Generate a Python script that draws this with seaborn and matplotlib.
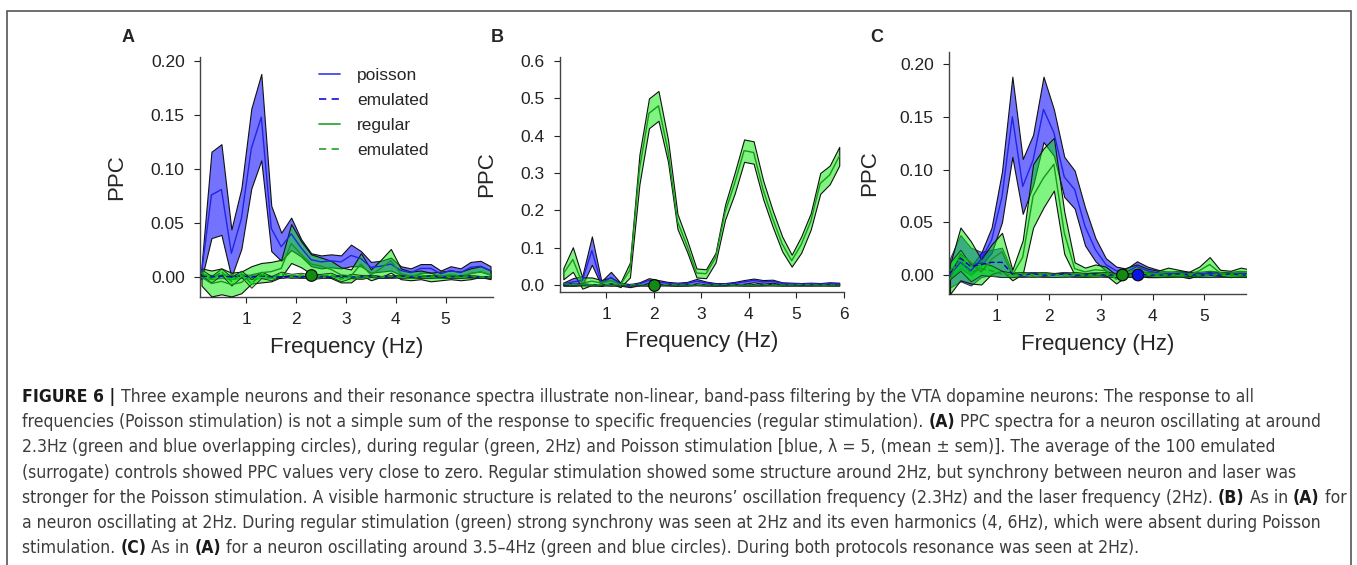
import numpy as np
import pandas as pd
import matplotlib
matplotlib.use("Agg")
import matplotlib.pyplot as plt
from matplotlib.lines import Line2D
from matplotlib.patches import Rectangle
from matplotlib import font_manager
import seaborn as sns

# ── Data ─────────────────────────────────────────────────────────────────────
FREQ = [0.1, 0.3, 0.5, 0.7, 0.9, 1.1, 1.3, 1.5, 1.7, 1.9,
        2.1, 2.3, 2.5, 2.7, 2.9, 3.1, 3.3, 3.5, 3.7, 3.9,
        4.1, 4.3, 4.5, 4.7, 4.9, 5.1, 5.3, 5.5, 5.7, 5.9]

# Panel A
A_POI = [0.004, 0.076, 0.081, 0.022, 0.054, 0.119, 0.148, 0.045, 0.028, 0.040,
         0.027, 0.016, 0.014, 0.015, 0.014, 0.020, 0.017, 0.009, 0.010, 0.012,
         0.006, 0.004, 0.008, 0.008, 0.003, 0.006, 0.004, 0.009, 0.010, 0.006]
A_POI_SEM = [0.006, 0.040, 0.042, 0.022, 0.028, 0.037, 0.040, 0.021, 0.013, 0.015,
             0.008, 0.006, 0.006, 0.006, 0.006, 0.010, 0.007, 0.005, 0.005, 0.006,
             0.004, 0.004, 0.004, 0.004, 0.003, 0.004, 0.004, 0.005, 0.005, 0.004]
A_REG = [0.000, -0.006, -0.004, -0.007, -0.005, 0.002, 0.004, 0.005, 0.008, 0.031,
         0.021, 0.012, 0.010, 0.007, 0.002, 0.001, 0.012, 0.002, 0.008, 0.015,
         0.003, 0.001, 0.002, 0.000, 0.001, 0.002, 0.001, 0.003, 0.005, 0.002]
A_REG_SEM = [0.008, 0.012, 0.012, 0.011, 0.010, 0.008, 0.009, 0.009, 0.008, 0.018,
             0.012, 0.009, 0.008, 0.008, 0.007, 0.006, 0.010, 0.005, 0.008, 0.011,
             0.005, 0.004, 0.004, 0.004, 0.004, 0.004, 0.004, 0.005, 0.005, 0.004]
A_EMU_POI = [0.001, 0.000, 0.001, 0.000, 0.001, 0.000, 0.001, 0.000, 0.000, 0.001,
             0.000, 0.001, 0.000, 0.000, 0.001, 0.000, 0.000, 0.001, 0.000, 0.000,
             0.001, 0.000, 0.000, 0.001, 0.000, 0.000, 0.001, 0.000, 0.000, 0.000]
A_EMU_POI_SEM = [0.002, 0.002, 0.002, 0.002, 0.002, 0.002, 0.002, 0.001, 0.001, 0.001,
                 0.001, 0.001, 0.001, 0.001, 0.001, 0.001, 0.001, 0.001, 0.001, 0.001,
                 0.001, 0.001, 0.001, 0.001, 0.001, 0.001, 0.001, 0.001, 0.001, 0.001]
A_EMU_REG = [0.004, -0.002, 0.005, -0.004, 0.003, -0.006, 0.002, -0.001, 0.003, 0.001,
             0.002, 0.000, 0.001, 0.002, -0.002, 0.001, 0.000, 0.001, 0.000, 0.001,
             0.000, 0.001, 0.000, 0.000, 0.001, 0.000, 0.000, 0.001, 0.000, 0.000]
A_EMU_REG_SEM = [0.003, 0.003, 0.003, 0.004, 0.003, 0.004, 0.003, 0.002, 0.002, 0.002,
                 0.002, 0.002, 0.002, 0.002, 0.002, 0.002, 0.002, 0.001, 0.001, 0.001,
                 0.001, 0.001, 0.001, 0.001, 0.001, 0.001, 0.001, 0.001, 0.001, 0.001]

# Panel B
B_POI = [0.002, 0.008, 0.012, 0.092, 0.004, 0.020, 0.002, -0.002, 0.003, 0.012,
         0.008, 0.004, 0.002, 0.004, 0.010, 0.005, 0.002, 0.002, 0.004, 0.008,
         0.012, 0.008, 0.010, 0.004, 0.003, 0.002, 0.003, 0.002, 0.004, 0.003]
B_POI_SEM = [0.004, 0.010, 0.012, 0.038, 0.006, 0.015, 0.004, 0.004, 0.004, 0.006,
             0.005, 0.004, 0.004, 0.004, 0.006, 0.004, 0.003, 0.003, 0.004, 0.005,
             0.005, 0.005, 0.004, 0.003, 0.003, 0.003, 0.003, 0.003, 0.003, 0.003]
B_REG = [0.030, 0.068, 0.005, 0.010, 0.005, 0.012, 0.000, 0.040, 0.310, 0.460,
         0.480, 0.360, 0.170, 0.105, 0.032, 0.030, 0.073, 0.195, 0.272, 0.360,
         0.355, 0.255, 0.178, 0.110, 0.065, 0.108, 0.170, 0.272, 0.295, 0.345]
B_REG_SEM = [0.015, 0.033, 0.015, 0.010, 0.008, 0.008, 0.006, 0.020, 0.040, 0.040,
             0.040, 0.030, 0.020, 0.016, 0.012, 0.012, 0.013, 0.020, 0.028, 0.030,
             0.030, 0.025, 0.022, 0.020, 0.016, 0.022, 0.022, 0.028, 0.025, 0.025]
B_EMU_POI = [0.001, 0.000, 0.001, 0.000, 0.001, 0.000, 0.000, 0.001, 0.000, 0.000,
             0.001, 0.000, 0.000, 0.000, 0.001, 0.000, 0.000, 0.000, 0.001, 0.000,
             0.000, 0.000, 0.001, 0.000, 0.000, 0.000, 0.000, 0.001, 0.000, 0.000]
B_EMU_POI_SEM = [0.002, 0.002, 0.002, 0.002, 0.002, 0.002, 0.002, 0.002, 0.002, 0.002,
                 0.002, 0.002, 0.002, 0.002, 0.002, 0.002, 0.002, 0.002, 0.002, 0.002,
                 0.002, 0.002, 0.002, 0.002, 0.002, 0.002, 0.002, 0.002, 0.002, 0.002]
B_EMU_REG = [0.003, 0.001, 0.002, 0.000, 0.001, 0.000, 0.001, 0.000, 0.001, 0.000,
             0.000, 0.001, 0.000, 0.000, 0.001, 0.000, 0.000, 0.001, 0.000, 0.000,
             0.000, 0.001, 0.000, 0.000, 0.000, 0.001, 0.000, 0.000, 0.000, 0.000]
B_EMU_REG_SEM = [0.004, 0.003, 0.003, 0.002, 0.002, 0.002, 0.002, 0.002, 0.002, 0.002,
                 0.002, 0.002, 0.002, 0.002, 0.002, 0.002, 0.002, 0.002, 0.002, 0.002,
                 0.002, 0.002, 0.002, 0.002, 0.002, 0.002, 0.002, 0.002, 0.002, 0.002]

# Panel C
C_POI = [0.000, 0.012, 0.004, 0.015, 0.033, 0.074, 0.150, 0.084, 0.109, 0.157,
         0.135, 0.093, 0.081, 0.046, 0.024, 0.010, 0.004, 0.003, 0.008, 0.004,
         0.002, 0.001, 0.002, 0.001, 0.001, 0.002, 0.001, 0.001, 0.002, 0.001]
C_POI_SEM = [0.003, 0.006, 0.004, 0.006, 0.012, 0.024, 0.038, 0.026, 0.024, 0.031,
             0.022, 0.019, 0.018, 0.018, 0.011, 0.006, 0.004, 0.003, 0.005, 0.004,
             0.003, 0.002, 0.002, 0.002, 0.002, 0.002, 0.002, 0.002, 0.002, 0.002]
C_REG = [-0.004, 0.020, 0.012, 0.003, 0.015, 0.022, 0.000, 0.017, 0.075, 0.092,
         0.105, 0.040, 0.006, 0.003, 0.005, 0.004, -0.004, 0.003, 0.005, 0.002,
         0.001, 0.003, 0.002, 0.000, 0.004, 0.010, 0.002, 0.001, 0.003, 0.002]
C_REG_SEM = [0.014, 0.025, 0.020, 0.012, 0.014, 0.018, 0.005, 0.016, 0.030, 0.028,
             0.025, 0.020, 0.006, 0.004, 0.005, 0.004, 0.004, 0.004, 0.005, 0.004,
             0.003, 0.004, 0.003, 0.003, 0.004, 0.007, 0.003, 0.003, 0.004, 0.003]
C_EMU_POI = [0.002, 0.016, 0.008, 0.010, 0.012, 0.012, 0.001, 0.000, 0.001, 0.000,
             0.000, 0.001, 0.000, 0.000, 0.001, 0.000, 0.000, 0.000, 0.001, 0.000,
             0.000, 0.000, 0.001, 0.000, 0.000, 0.000, 0.000, 0.001, 0.000, 0.000]
C_EMU_POI_SEM = [0.014, 0.022, 0.018, 0.012, 0.012, 0.014, 0.002, 0.002, 0.002, 0.002,
                 0.002, 0.002, 0.002, 0.002, 0.002, 0.002, 0.002, 0.002, 0.002, 0.002,
                 0.002, 0.002, 0.002, 0.002, 0.002, 0.002, 0.002, 0.002, 0.002, 0.002]
C_EMU_REG = [0.004, 0.014, 0.002, 0.006, 0.004, 0.001, 0.000, 0.001, 0.000, 0.001,
             0.000, 0.000, 0.001, 0.000, 0.000, 0.001, 0.000, 0.000, 0.000, 0.001,
             0.000, 0.000, 0.000, 0.001, 0.000, 0.000, 0.001, 0.000, 0.000, 0.000]
C_EMU_REG_SEM = [0.008, 0.010, 0.008, 0.006, 0.005, 0.003, 0.002, 0.002, 0.002, 0.002,
                 0.002, 0.002, 0.002, 0.002, 0.002, 0.002, 0.002, 0.002, 0.002, 0.002,
                 0.002, 0.002, 0.002, 0.002, 0.002, 0.002, 0.002, 0.002, 0.002, 0.002]

# oscillation-frequency markers (freq, PPC, colour key)
A_DOTS = [(2.3, 0.002, "regular")]
B_DOTS = [(2.0, 0.0, "regular")]
C_DOTS = [(3.42, 0.0, "regular"), (3.72, 0.0, "poisson")]

LEGEND_LABELS = ["poisson", "emulated", "regular", "emulated"]

CAPTION = [
    [("FIGURE 6 | ", True),
     ("Three example neurons and their resonance spectra illustrate non-linear, band-pass filtering by the VTA dopamine neurons: The response to all", False)],
    [("frequencies (Poisson stimulation) is not a simple sum of the response to specific frequencies (regular stimulation). ", False),
     ("(A)", True), (" PPC spectra for a neuron oscillating at around", False)],
    [("2.3Hz (green and blue overlapping circles), during regular (green, 2Hz) and Poisson stimulation [blue, λ = 5, (mean ± sem)]. The average of the 100 emulated", False)],
    [("(surrogate) controls showed PPC values very close to zero. Regular stimulation showed some structure around 2Hz, but synchrony between neuron and laser was", False)],
    [("stronger for the Poisson stimulation. A visible harmonic structure is related to the neurons\u2019 oscillation frequency (2.3Hz) and the laser frequency (2Hz). ", False),
     ("(B)", True), (" As in ", False), ("(A)", True), (" for", False)],
    [("a neuron oscillating at 2Hz. During regular stimulation (green) strong synchrony was seen at 2Hz and its even harmonics (4, 6Hz), which were absent during Poisson", False)],
    [("stimulation. ", False), ("(C)", True), (" As in ", False), ("(A)", True),
     (" for a neuron oscillating around 3.5\u20134Hz (green and blue circles). During both protocols resonance was seen at 2Hz).", False)],
]

# ── Style ────────────────────────────────────────────────────────────────────
sns.set_style("ticks")
plt.rcParams["font.family"] = ["Liberation Sans", "DejaVu Sans"]

COL = {
    "poi_fill": (0.0, 0.0, 1.0, 0.55),
    "reg_fill": (0.0, 0.92, 0.0, 0.50),
    "poi_line": "#2424e0",
    "reg_line": "#1c941c",
    "poi_emu": "#0000b4",
    "reg_emu": "#12a012",
    "poi_dot": "#0a14e6",
    "reg_dot": "#138a13",
    "edge": "#111111",
}

W, H = 1357, 565
fig = plt.figure(figsize=(W / 100, H / 100), dpi=100)

# outer frame of the figure box
fig.patches.append(Rectangle((7 / W, -0.02), (1351 - 7) / W, 1 - 11 / H + 0.02,
                             transform=fig.transFigure, fill=False,
                             edgecolor="#555555", linewidth=1.2))

panels = [
    # letter, rect, xlim, ylim, xticks, yticks, fmt, data, dots, letter xy, ylabel x
    ("A", [200 / W, 1 - 297 / H, 293 / W, 240 / H], (0.07, 5.95), (-0.0185, 0.2037),
     [1, 2, 3, 4, 5], [0, 0.05, 0.10, 0.15, 0.20], "{:.2f}",
     (A_POI, A_POI_SEM, A_REG, A_REG_SEM, A_EMU_POI, A_EMU_POI_SEM, A_EMU_REG, A_EMU_REG_SEM),
     A_DOTS, (128, 37), -0.249),
    ("B", [560 / W, 1 - 292 / H, 284 / W, 235 / H], (0.03, 5.92), (-0.019, 0.611),
     [1, 2, 3, 4, 5, 6], [0, 0.1, 0.2, 0.3, 0.4, 0.5, 0.6], "{:.1f}",
     (B_POI, B_POI_SEM, B_REG, B_REG_SEM, B_EMU_POI, B_EMU_POI_SEM, B_EMU_REG, B_EMU_REG_SEM),
     B_DOTS, (497, 37), -0.222),
    ("C", [949 / W, 1 - 294 / H, 297 / W, 242 / H], (0.08, 5.8), (-0.018, 0.2114),
     [1, 2, 3, 4, 5], [0, 0.05, 0.10, 0.15, 0.20], "{:.2f}",
     (C_POI, C_POI_SEM, C_REG, C_REG_SEM, C_EMU_POI, C_EMU_POI_SEM, C_EMU_REG, C_EMU_REG_SEM),
     C_DOTS, (877, 38), -0.232),
]

for letter, rect, xlim, ylim, xt, yt, fmt, data, dots, lxy, ylx in panels:
    ax = fig.add_axes(rect)
    poi, poi_s, reg, reg_s, ep, ep_s, er, er_s = [np.array(d) for d in data]
    f = np.array(FREQ)

    # sem bands
    ax.fill_between(f, poi - poi_s, poi + poi_s, facecolor=COL["poi_fill"],
                    edgecolor=COL["edge"], linewidth=0.8, zorder=2)
    ax.fill_between(f, ep - ep_s, ep + ep_s, facecolor=COL["poi_fill"],
                    edgecolor="#222222", linewidth=0.6, zorder=2.5)
    ax.fill_between(f, reg - reg_s, reg + reg_s, facecolor=COL["reg_fill"],
                    edgecolor=COL["edge"], linewidth=0.8, zorder=3)
    ax.fill_between(f, er - er_s, er + er_s, facecolor=COL["reg_fill"],
                    edgecolor="#222222", linewidth=0.6, zorder=4)

    # mean curves
    long = pd.DataFrame({
        "freq": np.tile(f, 4),
        "ppc": np.concatenate([poi, reg, ep, er]),
        "series": np.repeat(["poisson", "regular", "poisson emulated", "regular emulated"], len(f)),
    })
    sns.lineplot(data=long, x="freq", y="ppc", hue="series", style="series",
                 palette={"poisson": COL["poi_line"], "regular": COL["reg_line"],
                          "poisson emulated": COL["poi_emu"], "regular emulated": COL["reg_emu"]},
                 dashes={"poisson": "", "regular": "", "poisson emulated": (4, 2),
                         "regular emulated": (4, 2)},
                 linewidth=1.0, legend=False, ax=ax, zorder=5)

    # oscillation frequency markers
    dd = pd.DataFrame(dots, columns=["freq", "ppc", "kind"])
    sns.scatterplot(data=dd, x="freq", y="ppc", hue="kind",
                    palette={"regular": COL["reg_dot"], "poisson": COL["poi_dot"]},
                    s=70, edgecolor="black", linewidth=0.8, legend=False, ax=ax,
                    zorder=6, clip_on=False)

    ax.set_xlim(*xlim)
    ax.set_ylim(*ylim)
    ax.set_xticks(xt)
    ax.set_xticklabels([str(v) for v in xt])
    ax.set_yticks(yt)
    ax.set_yticklabels([fmt.format(v) for v in yt])
    ax.tick_params(axis="both", direction="out", length=4, width=0.8,
                   labelsize=12.5, colors="#222222")
    ax.tick_params(axis="y", pad=7)
    ax.tick_params(axis="x", pad=7)
    sns.despine(ax=ax)
    for sp in ax.spines.values():
        sp.set_color("#444444")
        sp.set_linewidth(1.0)

    ax.set_xlabel("Frequency (Hz)", fontsize=16)
    ax.set_ylabel("PPC", fontsize=16)
    ax.yaxis.set_label_coords(ylx, 0.5)
    ax.xaxis.set_label_coords(0.5, -0.165)
    fig.text(lxy[0] / W, 1 - lxy[1] / H, letter, fontsize=13, fontweight="bold",
             ha="center", va="center")

    if letter == "A":
        handles = [Line2D([], [], color="#4848ee", lw=1.3),
                   Line2D([], [], color="#2020e0", lw=1.3, ls=(0, (4, 3))),
                   Line2D([], [], color="#36a836", lw=1.3),
                   Line2D([], [], color="#36a836", lw=1.3, ls=(0, (4, 3)))]
        ax.legend(handles, LEGEND_LABELS, loc="upper left",
                  bbox_to_anchor=(0.375, 0.99), frameon=False, fontsize=12.5,
                  handlelength=1.25, handletextpad=0.95, labelspacing=0.56,
                  borderpad=0.0)

# ── Caption with bold fragments ─────────────────────────────────────────────
names = {fe.name for fe in font_manager.fontManager.ttflist}
if "Liberation Sans Narrow" in names:
    CAP_FAMILY, CAP_STRETCH = ["Liberation Sans Narrow", "DejaVu Sans"], "normal"
else:
    CAP_FAMILY, CAP_STRETCH = ["DejaVu Sans"], "condensed"

renderer = fig.canvas.get_renderer()


def line_width(segs, size):
    total = 0.0
    for txt, bold in segs:
        t = fig.text(0, 0, txt, fontsize=size, family=CAP_FAMILY,
                     fontstretch=CAP_STRETCH, fontweight="bold" if bold else "normal")
        total += t.get_window_extent(renderer).width
        t.remove()
    return total


cap_size = 12.0 * 1237 / line_width(CAPTION[0], 12.0)
x0 = 22
line_y = [397, 422, 447, 473, 498, 523, 548]
for segs, ly in zip(CAPTION, line_y):
    x = x0
    for txt, bold in segs:
        t = fig.text(x / W, 1 - ly / H, txt, fontsize=cap_size, family=CAP_FAMILY,
                     fontstretch=CAP_STRETCH,
                     fontweight="bold" if bold else "normal",
                     color="#1a1a1a" if bold else "#3c3c3c",
                     ha="left", va="center")
        x += t.get_window_extent(renderer).width

fig.savefig("out.png", dpi=100)
